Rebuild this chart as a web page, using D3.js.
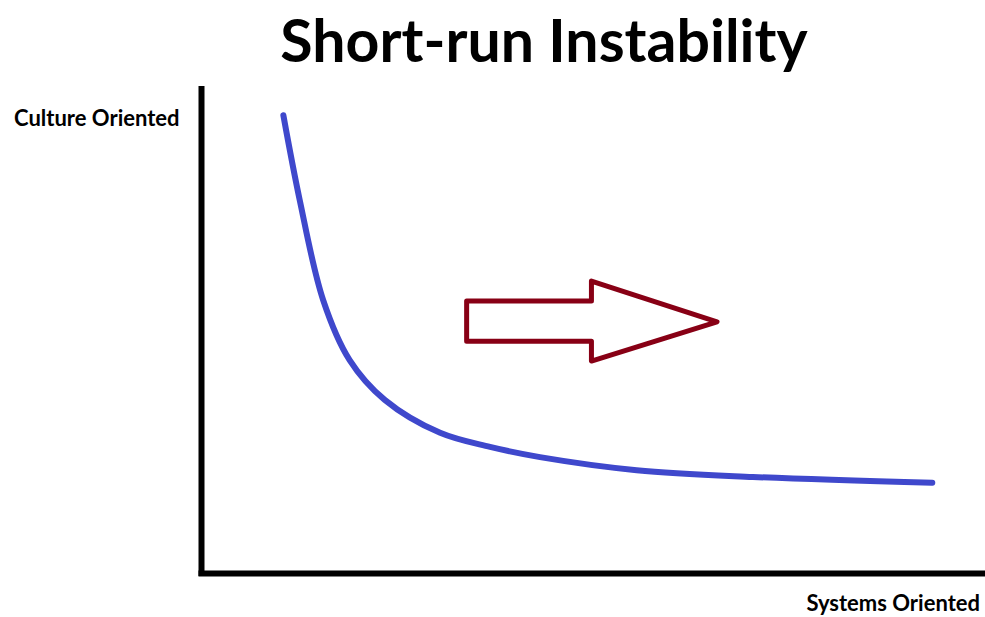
<!DOCTYPE html>
<html>
<head>
<meta charset="utf-8">
<script src="https://cdn.jsdelivr.net/npm/d3@7"></script>
<style>
  body { margin: 0; background: #fff; }
  text { font-family: Lato, "Open Sans", sans-serif; font-weight: bold; fill: #000; }
</style>
</head>
<body>
<svg id="chart" width="985" height="617"></svg>
<script>
// curve, x and y in 0..100 axis units
const curveX = [10.3, 12.4, 15.4, 18.8, 23.3, 30.4, 36.8, 43.2, 55.6, 70.5, 93.5]
const curveY = [94.4, 76.9, 56.3, 43.9, 35.7, 28.9, 26.0, 23.9, 21.2, 19.8, 18.6]

// outline of the arrow, same units
const arrowX = [33.8, 49.8, 49.8, 65.9, 49.8, 49.8, 33.8]
const arrowY = [56.1, 56.1, 60.2, 51.8, 43.7, 47.8, 47.8]

const title = 'Short-run Instability'
const yLabel = 'Culture Oriented'
const xLabel = 'Systems Oriented'

const svg = d3.select('#chart'),
      width = +svg.attr('width'),
      height = +svg.attr('height');

const x = d3.scaleLinear().domain([0, 100]).range([203, 983])
const y = d3.scaleLinear().domain([0, 100]).range([573, 88])

// axes, just two thick black lines
svg.append('line')
    .attr('x1', x(0) - 1.5).attr('x2', x(0) - 1.5)
    .attr('y1', 86).attr('y2', y(0) + 3)
    .attr('stroke', '#000').attr('stroke-width', 6)
svg.append('line')
    .attr('x1', x(0) - 4.5).attr('x2', width)
    .attr('y1', y(0) + 0.5).attr('y2', y(0) + 0.5)
    .attr('stroke', '#000').attr('stroke-width', 6)

const pts = curveX.map((d, i) => [d, curveY[i]])
const line = d3.line().x(d => x(d[0])).y(d => y(d[1])).curve(d3.curveCatmullRom.alpha(0.5))
svg.append('path')
    .attr('d', line(pts))
    .attr('fill', 'none')
    .attr('stroke', '#3f48cc')
    .attr('stroke-width', 6)
    .attr('stroke-linecap', 'round')

const arrowPts = arrowX.map((d, i) => [x(d), y(arrowY[i])])
svg.append('polygon')
    .attr('points', arrowPts.map(p => p.join(',')).join(' '))
    .attr('fill', '#fff')
    .attr('stroke', '#880015')
    .attr('stroke-width', 5)
    .attr('stroke-linejoin', 'round')

svg.append('text')
    .attr('x', 544).attr('y', 62)
    .attr('text-anchor', 'middle')
    .style('font-size', '59px')
    .text(title)

svg.append('text')
    .attr('x', 14).attr('y', 126)
    .style('font-size', '22px')
    .text(yLabel)

svg.append('text')
    .attr('x', 980).attr('y', 611)
    .attr('text-anchor', 'end')
    .style('font-size', '22px')
    .text(xLabel)
</script>
</body>
</html>
